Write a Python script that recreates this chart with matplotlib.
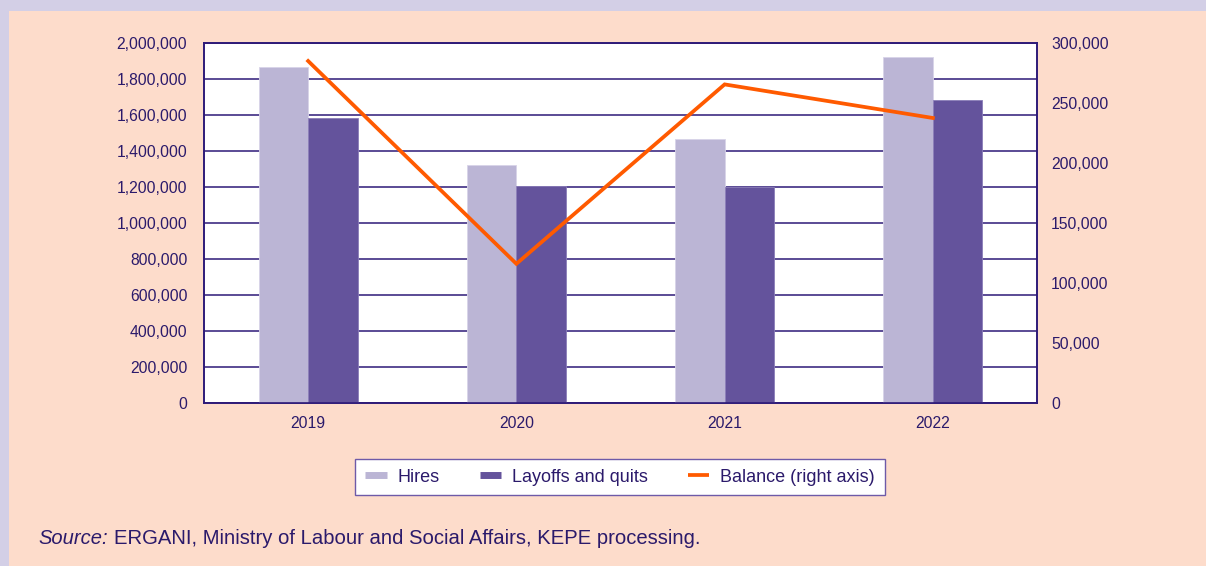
import matplotlib
matplotlib.use("Agg")
import matplotlib.pyplot as plt
from matplotlib.patches import Rectangle
from matplotlib.lines import Line2D
from matplotlib.ticker import FuncFormatter, MultipleLocator
import numpy as np

years = ["2019", "2020", "2021", "2022"]
hires = [1866700, 1320600, 1466700, 1922200]
layoffs = [1583300, 1204000, 1202000, 1681700]
balance = [285000, 116000, 265500, 237500]

plt.rcParams['font.family'] = ['Liberation Sans', 'DejaVu Sans']
TXT = '#2B1A6B'
GRID = '#2E1A78'
C_HIRES = '#BBB5D5'
C_LAY = '#64539C'
C_LINE = '#FF5A00'
PEACH = '#FDDCCB'
LAV = '#D3CFE6'

W, H = 1206, 566
fig = plt.figure(figsize=(W/100, H/100), dpi=100, facecolor=LAV)
fig.patches.append(Rectangle((9/W, 0), 1 - 9/W, 1 - 11/H, transform=fig.transFigure,
                             facecolor=PEACH, edgecolor='none', zorder=-10))

ax = fig.add_axes([204/W, 1 - 403/H, (1037-204)/W, (403-43)/H])
ax.set_facecolor('white')
x = np.arange(len(years))
bw = 0.238
ax.bar(x - bw/2, hires, width=bw, color=C_HIRES, edgecolor='#D8D4E8', linewidth=0.6, zorder=3)
ax.bar(x + bw/2, layoffs, width=bw, color=C_LAY, edgecolor='#8A7DB8', linewidth=0.6, zorder=3)
ax.set_xlim(-0.5, 3.5)
ax.set_ylim(0, 2000000)
ax.yaxis.set_major_locator(MultipleLocator(200000))
ax.yaxis.set_major_formatter(FuncFormatter(lambda v, p: f"{int(v):,}"))
ax.set_xticks(x)
ax.set_xticklabels(years)
ax.grid(axis='y', color=GRID, linewidth=1.1, zorder=1)
ax.set_axisbelow(True)
ax.tick_params(axis='both', length=0, labelsize=11.3, colors=TXT)
ax.tick_params(axis='y', pad=12)
ax.tick_params(axis='x', pad=9)
for s in ax.spines.values():
    s.set_color(GRID)
    s.set_linewidth(1.2)

ax2 = ax.twinx()
ax2.plot(x, balance, color=C_LINE, linewidth=2.7, zorder=5, solid_joinstyle='miter')
ax2.set_ylim(0, 300000)
ax2.yaxis.set_major_locator(MultipleLocator(50000))
ax2.yaxis.set_major_formatter(FuncFormatter(lambda v, p: f"{int(v):,}"))
ax2.tick_params(axis='y', length=0, labelsize=11.3, colors=TXT, pad=10)
for s in ax2.spines.values():
    s.set_color(GRID)
    s.set_linewidth(1.2)

handles = [Line2D([], [], color=C_HIRES, lw=5, solid_capstyle='butt'),
           Line2D([], [], color=C_LAY, lw=5, solid_capstyle='butt'),
           Line2D([], [], color=C_LINE, lw=2.7, solid_capstyle='butt')]
labels = ["Hires", "Layoffs and quits", "Balance (right axis)"]
leg = fig.legend(handles, labels, loc='center', bbox_to_anchor=(620/W, 1 - 477/H),
                 ncol=3, frameon=True, fancybox=False, fontsize=13, handlelength=1.2,
                 columnspacing=2.2, handletextpad=0.6, borderpad=0.55, borderaxespad=0,
                 labelcolor=TXT, framealpha=1)
leg.get_frame().set_edgecolor('#6E5AA8')
leg.get_frame().set_linewidth(1.0)
leg.get_frame().set_facecolor('white')

t1 = fig.text(38/W, 1 - 538/H, "Source:", style='italic', fontsize=14.5, color=TXT,
              va='center', ha='left')
fig.canvas.draw()
bb = t1.get_window_extent()
fig.text((bb.x1 + 6)/W, 1 - 538/H, "ERGANI, Ministry of Labour and Social Affairs, KEPE processing.",
         fontsize=14.6, color=TXT, va='center', ha='left')

fig.savefig("out.png", dpi=100, facecolor=fig.get_facecolor())
